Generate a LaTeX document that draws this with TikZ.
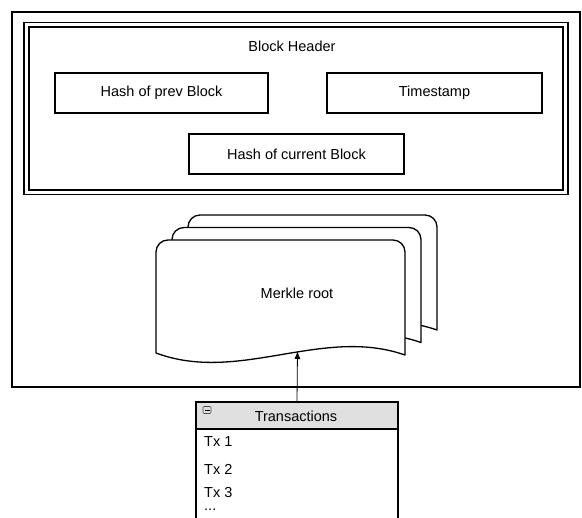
\documentclass[tikz,border=0pt]{standalone}
\usepackage{fontspec}
\setmainfont{Liberation Sans}
\usetikzlibrary{arrows.meta}
\definecolor{hdrgray}{HTML}{E0E0E0}
\tikzset{
  txt/.style={font=\fontsize{14.5}{17}\selectfont, inner sep=0pt},
  fieldbox/.style={draw, line width=1.6pt, inner sep=0pt, font=\fontsize{14.5}{17}\selectfont},
  docst/.style={draw, line width=1.3pt, fill=white, line join=round},
  linkarrow/.style={line width=0.8pt, -{Latex[length=8pt,width=6pt]}},
}
\begin{document}
\begin{tikzpicture}[x=1pt,y=-1pt]
\useasboundingbox (0,0) rectangle (582,518);
\clip (0,0) rectangle (582,518);
\fill[white] (0,0) rectangle (582,518);
% outer block box
\node[draw, line width=1.8pt, minimum width=568pt, minimum height=375pt, inner sep=0pt] (block) at (296,199.5) {};
% header double box
\node[draw, line width=1.4pt, minimum width=544pt, minimum height=172pt, inner sep=0pt] (hdrout) at (296,108.5) {};
\node[draw, line width=1.4pt, minimum width=534pt, minimum height=163pt, inner sep=0pt] (hdrin) at (296,108.5) {};
\node[txt] (hdrlabel) at (292,46) {Block Header};
\node[fieldbox, minimum width=213pt, minimum height=40pt] (prev) at (161.5,93) {Hash of prev Block};
\node[fieldbox, minimum width=215pt, minimum height=40pt] (time) at (434.5,93) {Timestamp};
\node[fieldbox, minimum width=215pt, minimum height=40pt] (cur) at (296.5,154) {Hash of current Block};
% stacked documents (Merkle root)
\foreach \dx/\dy in {32/-25, 16/-12.5, 0/0}{
  \begin{scope}[shift={(\dx,\dy)}]
    \draw[docst] (156,353) -- (156,252) arc[start angle=180, end angle=90, radius=12pt]
      -- (393,240) arc[start angle=90, end angle=0, radius=12pt]
      -- (405,355) .. controls (322,326) and (239,384) .. (156,353) -- cycle;
  \end{scope}
}
\node[txt] (merkle) at (297,293) {Merkle root};
\coordinate (mtip) at (297.5,351);
% transactions table
\draw[line width=1.3pt, fill=white] (196,402) rectangle (398,540);
\node[draw, line width=1.3pt, fill=hdrgray, minimum width=202pt, minimum height=27pt, inner sep=0pt] (trans) at (297,415.5) {};
\node[txt] (translabel) at (296,416.5) {Transactions};
\node[draw=black!70, line width=0.6pt, rounded corners=1pt, minimum width=8pt, minimum height=7pt, inner sep=0pt] (minus) at (207,410) {};
\draw[line width=0.7pt] ([xshift=1.8pt]minus.west) -- ([xshift=-1.8pt]minus.east);
\node[txt, anchor=west] (tx1) at (204,442) {Tx 1};
\node[txt, anchor=west] (tx2) at (204,469) {Tx 2};
\node[txt, anchor=west] (tx3) at (204,493) {Tx 3};
\node[txt, anchor=base west, text height=2pt, text depth=0pt] (txmore) at (204,511) {...};
% arrow
\draw[linkarrow] (trans.north) -- (mtip);
\end{tikzpicture}
\end{document}
